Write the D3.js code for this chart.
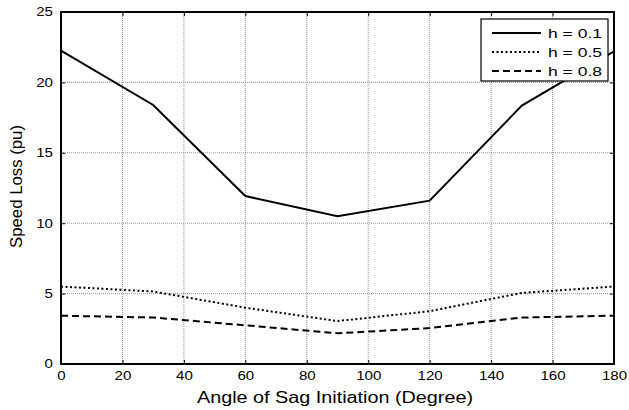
<!DOCTYPE html>
<html>
<head>
<meta charset="utf-8">
<script src="https://cdn.jsdelivr.net/npm/d3@7"></script>
<style>
body{margin:0;background:#fff;}
text{font-family:"Liberation Sans",Arial,sans-serif;fill:#000;}
</style>
</head>
<body>
<svg id="chart" width="629" height="410"></svg>
<script>
// data
var angles = [0, 30, 60, 90, 120, 150, 180];
var h01 = [22.25, 18.4, 11.93, 10.5, 11.6, 18.35, 22.2];
var h05 = [5.5, 5.15, 4.0, 3.05, 3.75, 5.05, 5.5];
var h08 = [3.43, 3.3, 2.75, 2.18, 2.55, 3.3, 3.43];
var seriesNames = ["h = 0.1", "h = 0.5", "h = 0.8"];
var xTicks = d3.range(0, 181, 20);
var yTicks = [0, 5, 10, 15, 20, 25];

var svg = d3.select("#chart");
var pLeft = 61, pRight = 614, pTop = 12, pBottom = 364;

var x = d3.scaleLinear().domain([0, 180]).range([pLeft, pRight]);
var y = d3.scaleLinear().domain([0, 25]).range([pBottom, pTop]);

// grid
var grid = svg.append("g");
grid.selectAll(".gx").data(xTicks).enter().append("line")
    .attr("x1", function(d){ return x(d); }).attr("x2", function(d){ return x(d); })
    .attr("y1", pTop).attr("y2", pBottom)
    .attr("stroke", "#777").attr("stroke-width", 0.8).attr("stroke-dasharray", "1,1");
grid.selectAll(".gy").data(yTicks).enter().append("line")
    .attr("x1", pLeft).attr("x2", pRight)
    .attr("y1", function(d){ return y(d); }).attr("y2", function(d){ return y(d); })
    .attr("stroke", "#777").attr("stroke-width", 0.8).attr("stroke-dasharray", "1,1");

// axes, ticks pointing inward like matlab
var tickLen = 4;
// glyphs in the figure are stretched sideways, so fix each label's width
function stretch(g){
    g.selectAll("text")
        .attr("font-size", 12)
        .attr("textLength", function(d){ return String(d).length * 8.4; })
        .attr("lengthAdjust", "spacingAndGlyphs");
}
svg.append("g").attr("transform", "translate(0," + pBottom + ")")
    .call(d3.axisBottom(x).tickValues(xTicks).tickSizeInner(-tickLen).tickSizeOuter(0).tickPadding(7))
    .call(function(g){ g.select(".domain").remove(); stretch(g); });
svg.append("g").attr("transform", "translate(0," + pTop + ")")
    .call(d3.axisTop(x).tickValues(xTicks).tickSizeInner(-tickLen).tickSizeOuter(0).tickFormat(""))
    .call(function(g){ g.select(".domain").remove(); });
svg.append("g").attr("transform", "translate(" + pLeft + ",0)")
    .call(d3.axisLeft(y).tickValues(yTicks).tickSizeInner(-tickLen).tickSizeOuter(0).tickPadding(8))
    .call(function(g){ g.select(".domain").remove(); stretch(g); });
svg.append("g").attr("transform", "translate(" + pRight + ",0)")
    .call(d3.axisRight(y).tickValues(yTicks).tickSizeInner(-tickLen).tickSizeOuter(0).tickFormat(""))
    .call(function(g){ g.select(".domain").remove(); });

svg.selectAll(".tick line").attr("stroke", "#000");

// lines
var line = d3.line()
    .x(function(d, i){ return x(angles[i]); })
    .y(function(d){ return y(d); });

var dashes = [null, "2,2.5", "7,4"];
var allSeries = [h01, h05, h08];

svg.selectAll(".series").data(allSeries).enter().append("path")
    .attr("class", "series")
    .attr("d", line)
    .attr("fill", "none")
    .attr("stroke", "#000")
    .attr("stroke-width", 2)
    .attr("stroke-dasharray", function(d, i){ return dashes[i]; });

svg.append("rect")
    .attr("x", pLeft).attr("y", pTop)
    .attr("width", pRight - pLeft).attr("height", pBottom - pTop)
    .attr("fill", "none").attr("stroke", "#000").attr("stroke-width", 2);

// legend
var lg = svg.append("g");
lg.append("rect")
    .attr("x", 481).attr("y", 19).attr("width", 127).attr("height", 62)
    .attr("fill", "#fff").attr("stroke", "#000").attr("stroke-width", 1.2);
seriesNames.forEach(function(name, i){
    var ly = 33 + i * 19;
    lg.append("line")
        .attr("x1", 492).attr("x2", 541).attr("y1", ly).attr("y2", ly)
        .attr("stroke", "#000").attr("stroke-width", 2)
        .attr("stroke-dasharray", dashes[i]);
    lg.append("text")
        .attr("x", 548).attr("y", ly + 5)
        .attr("font-size", 13)
        .attr("textLength", 54).attr("lengthAdjust", "spacingAndGlyphs")
        .text(name);
});

// axis labels
svg.append("text")
    .attr("x", 197).attr("y", 403)
    .attr("font-size", 16)
    .attr("textLength", 276).attr("lengthAdjust", "spacingAndGlyphs")
    .text("Angle of Sag Initiation (Degree)");
svg.append("text")
    .attr("transform", "translate(22,248) rotate(-90)")
    .attr("font-size", 16)
    .attr("textLength", 123).attr("lengthAdjust", "spacingAndGlyphs")
    .text("Speed Loss (pu)");
</script>
</body>
</html>
